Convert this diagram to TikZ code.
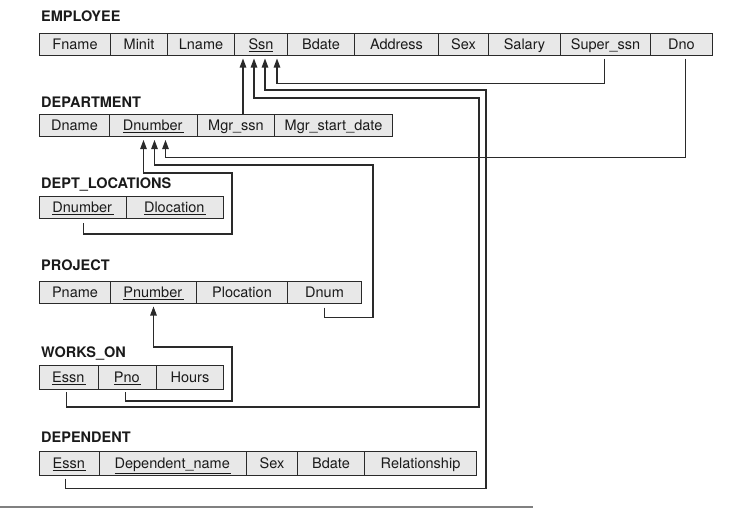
\documentclass[tikz,border=0pt]{standalone}
\usepackage{fontspec}
\setmainfont{TeX Gyre Heros}
\usetikzlibrary{calc,arrows.meta}
\definecolor{cellc}{HTML}{E8E8E8}
\definecolor{linec}{HTML}{2A2A2A}
\definecolor{txtc}{HTML}{1A1A1A}
\definecolor{rulec}{HTML}{808080}
\newcommand\pk[1]{\underline{#1\kern1.5pt}}
\tikzset{
  cell/.style={draw=linec, fill=cellc, line width=1pt, minimum height=22, inner sep=0,
    anchor=west, text height=10.4, text depth=0, text=txtc, font=\fontsize{14.5}{17}\selectfont},
  reltitle/.style={anchor=base west, inner sep=0, text=txtc, font=\fontsize{14.5}{17}\selectfont\bfseries},
  fk/.style={draw=linec, line width=1.1pt, line join=miter, -{Triangle[length=9pt,width=6.5pt]}}
}
\begin{document}
\begin{tikzpicture}[x=1pt,y=-1pt]
\useasboundingbox (0,0) rectangle (742,525);
% EMPLOYEE
\node[reltitle] (tEmp) at (41,21) {EMPLOYEE};
\node[cell, minimum width=71]  (fname)  at (39,44)  {Fname};
\node[cell, minimum width=57]  (minit)  at (110,44) {Minit};
\node[cell, minimum width=67]  (lname)  at (167,44) {Lname};
\node[cell, minimum width=53]  (ssn)    at (234,44) {\underline{Ssn}};
\node[cell, minimum width=67]  (bdate)  at (287,44) {Bdate};
\node[cell, minimum width=84]  (addr)   at (354,44) {Address};
\node[cell, minimum width=50]  (sex)    at (438,44) {Sex};
\node[cell, minimum width=72]  (salary) at (488,44) {Salary};
\node[cell, minimum width=90]  (supssn) at (560,44) {Super\_ssn};
\node[cell, minimum width=62]  (dno)    at (650,44) {Dno};
% DEPARTMENT
\node[reltitle] (tDep) at (41,107) {DEPARTMENT};
\node[cell, minimum width=70]  (dname)   at (39,125.5)  {Dname};
\node[cell, minimum width=88]  (dnumber) at (109,125.5) {\pk{Dnumber}};
\node[cell, minimum width=77]  (mgrssn)  at (197,125.5) {Mgr\_ssn};
\node[cell, minimum width=118] (mgrsd)   at (274,125.5) {Mgr\_start\_date};
% DEPT_LOCATIONS
\node[reltitle] (tDL) at (41,188) {DEPT\_LOCATIONS};
\node[cell, minimum width=87] (dldnum) at (39,207.5)  {\pk{Dnumber}};
\node[cell, minimum width=97] (dlloc)  at (126,207.5) {\pk{Dlocation}};
% PROJECT
\node[reltitle] (tPr) at (41,270) {PROJECT};
\node[cell, minimum width=71] (pname)   at (39,292)  {Pname};
\node[cell, minimum width=86] (pnumber) at (110,292) {\pk{Pnumber}};
\node[cell, minimum width=91] (ploc)    at (196,292) {Plocation};
\node[cell, minimum width=74] (dnum)    at (287,292) {Dnum};
% WORKS_ON
\node[reltitle] (tWo) at (41,357) {WORKS\_ON};
\node[cell, minimum width=59, minimum height=24] (woessn) at (39,377.5)  {\pk{Essn}};
\node[cell, minimum width=58, minimum height=24] (wopno)  at (98,377.5)  {\pk{Pno}};
\node[cell, minimum width=67, minimum height=24] (hours)  at (156,377.5) {Hours};
% DEPENDENT
\node[reltitle] (tDe) at (41,442) {DEPENDENT};
\node[cell, minimum width=60,  minimum height=24] (deessn) at (39,463)  {\pk{Essn}};
\node[cell, minimum width=147, minimum height=24] (depnm)  at (99,463)  {\pk{Dependent\_name}};
\node[cell, minimum width=51,  minimum height=24] (desex)  at (246,463) {Sex};
\node[cell, minimum width=67,  minimum height=24] (debd)   at (297,463) {Bdate};
\node[cell, minimum width=112, minimum height=24] (derel)  at (364,463) {Relationship};
% arrow tip points
\coordinate (ssnT1) at ($(ssn.west |- ssn.south)+(9,3)$);
\coordinate (ssnT2) at ($(ssn.west |- ssn.south)+(20,3)$);
\coordinate (ssnT3) at ($(ssn.west |- ssn.south)+(31,3)$);
\coordinate (ssnT4) at ($(ssn.west |- ssn.south)+(43,3)$);
\coordinate (dnT1) at ($(dnumber.south)+(-10,3)$);
\coordinate (dnT2) at ($(dnumber.south)+(1,3)$);
\coordinate (dnT3) at ($(dnumber.south)+(12,3)$);
\coordinate (pnT) at ($(pnumber.south)+(0,3)$);
% connectors
\draw[fk] (mgrssn.north -| ssnT1) -- (ssnT1);
\draw[fk] ($(supssn.south)+(-1,3)$) -- ++(0,25) -| (ssnT4);
\draw[fk] ($(woessn.south)+(-2.5,2)$) -- ++(0,15) -| (479,98) -| (ssnT2);
\draw[fk] ($(deessn.south)+(-4,3)$) -- ++(0,10) -| (486,90) -| (ssnT3);
\draw[fk] ($(dno.south)+(4,3)$) -- ++(0,99) -| (dnT3);
\draw[fk] ($(dnum.south)+(0,4)$) -- ++(0,10) -| (373,165) -| (dnT2);
\draw[fk] ($(dldnum.south)+(0.5,4)$) -- ++(0,11) -| (232,173) -| (dnT1);
\draw[fk] ($(wopno.south)+(-2,2)$) -- ++(0,9) -| (232,347) -| (pnT);
% bottom rule
\draw[rulec, line width=1.5pt] (0,507) -- (533,507);
\end{tikzpicture}
\end{document}
